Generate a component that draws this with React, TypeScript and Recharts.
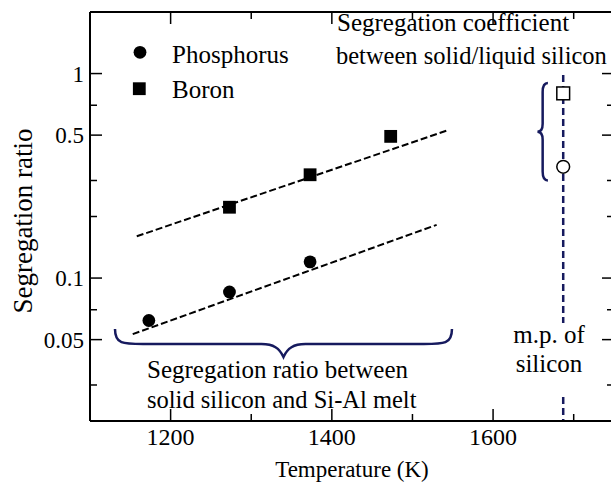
import React from 'react';
import {
  ComposedChart,
  XAxis,
  YAxis,
  Scatter,
  Line,
  ReferenceArea,
  Legend,
  Label,
} from 'recharts';

// ---------- data ----------
const tempTicks = [1200, 1300, 1400, 1500, 1600, 1700];
const tempLabelled = [1200, 1400, 1600];
const ratioTicks = [0.03, 0.04, 0.05, 0.06, 0.07, 0.08, 0.09, 0.1, 0.2, 0.3, 0.4, 0.5, 0.6, 0.7, 0.8, 0.9, 1];
const ratioLabelled = [0.05, 0.1, 0.5, 1];

const phosphorus = [
  { T: 1173, r: 0.062 },
  { T: 1273, r: 0.0855 },
  { T: 1373, r: 0.12 },
];
const boron = [
  { T: 1273, r: 0.222 },
  { T: 1373, r: 0.32 },
  { T: 1473, r: 0.493 },
];
const phosphorusFit = [
  { T: 1153, r: 0.0532 },
  { T: 1530, r: 0.182 },
];
const boronFit = [
  { T: 1158, r: 0.16 },
  { T: 1545, r: 0.53 },
];
const meltingPointUpper = [
  { T: 1687, r: 0.985 },
  { T: 1687, r: 0.0603 },
];
const meltingPointLower = [
  { T: 1687, r: 0.0262 },
  { T: 1687, r: 0.02 },
];
const boronSolidLiquid = [{ T: 1687, r: 0.8 }];
const phosphorusSolidLiquid = [{ T: 1687, r: 0.35 }];

const braceSolidLiquid = { T1: 1655, T2: 1668, r1: 0.3, r2: 0.9 };
const braceSiAl = { T1: 1131, T2: 1549, r1: 0.0411, r2: 0.0564 };

// ---------- styles ----------
const FONT = "'Liberation Serif', 'Times New Roman', serif";
const NAVY = '#161a5e';
const INK = '#000';
const txt = (size: number) => ({ fontFamily: FONT, fontSize: size });

const BottomTick = (props: any) => {
  const { x, y, payload } = props;
  const major = tempLabelled.includes(payload.value);
  return (
    <g>
      <line x1={x} y1={y} x2={x} y2={y - (major ? 12 : 7)} stroke={INK} strokeWidth={1.5} />
      {major && (
        <text x={x} y={y + 24} textAnchor="middle" style={txt(24)} fill={INK}>
          {payload.value}
        </text>
      )}
    </g>
  );
};

const TopTick = (props: any) => {
  const { x, y, payload } = props;
  const major = tempLabelled.includes(payload.value);
  return <line x1={x} y1={y} x2={x} y2={y + (major ? 12 : 7)} stroke={INK} strokeWidth={1.5} />;
};

const LeftTick = (props: any) => {
  const { x, y, payload } = props;
  const major = ratioLabelled.includes(payload.value);
  return (
    <g>
      <line x1={x} y1={y} x2={x + (major ? 12 : 7)} y2={y} stroke={INK} strokeWidth={1.5} />
      {major && (
        <text x={x - 6} y={y + 8} textAnchor="end" style={txt(23)} fill={INK}>
          {payload.value}
        </text>
      )}
    </g>
  );
};

const RightTick = (props: any) => {
  const { x, y, payload } = props;
  const major = ratioLabelled.includes(payload.value);
  return <line x1={x} y1={y} x2={x - (major ? 12 : 7)} y2={y} stroke={INK} strokeWidth={1.5} />;
};

const VerticalBrace = (props: any) => {
  const { x, y, width, height } = props;
  const L = x;
  const R = x + width;
  const T = y;
  const B = y + height;
  const M = T + height / 2;
  const V = L + width * 0.5;
  const d = `M ${R} ${T} Q ${V} ${T} ${V} ${T + 9} L ${V} ${M - 8} Q ${V} ${M} ${L} ${M} Q ${V} ${M} ${V} ${M + 8} L ${V} ${B - 9} Q ${V} ${B} ${R} ${B}`;
  return <path d={d} fill="none" stroke={NAVY} strokeWidth={2.5} />;
};

const HorizontalBrace = (props: any) => {
  const { x, y, width, height } = props;
  const L = x;
  const R = x + width;
  const T = y;
  const B = y + height;
  const H = T + height * 0.54;
  const C = L + width / 2;
  const d = `M ${L} ${T} C ${L} ${H} ${L + 8} ${H} ${L + 28} ${H} L ${C - 22} ${H} C ${C - 10} ${H} ${C - 4} ${H + 4} ${C} ${B} C ${C + 4} ${H + 4} ${C + 10} ${H} ${C + 22} ${H} L ${R - 28} ${H} C ${R - 8} ${H} ${R} ${H} ${R} ${T}`;
  return <path d={d} fill="none" stroke={NAVY} strokeWidth={2.5} />;
};

const FilledCircle = (p: any) => <circle cx={p.cx} cy={p.cy} r={6.4} fill={INK} />;
const FilledSquare = (p: any) => <rect x={p.cx - 6.4} y={p.cy - 6.4} width={12.8} height={12.8} fill={INK} />;
const OpenCircle = (p: any) => <circle cx={p.cx} cy={p.cy} r={6.4} fill="#fff" stroke={INK} strokeWidth={1.5} />;
const OpenSquare = (p: any) => (
  <rect x={p.cx - 6.4} y={p.cy - 6.4} width={12.8} height={12.8} fill="#fff" stroke={INK} strokeWidth={1.5} />
);

const LegendContent = () => (
  <svg width={200} height={80} style={{ display: 'block' }}>
    <circle cx={20} cy={22.3} r={6.4} fill={INK} />
    <text x={52} y={32.5} style={txt(25)} fill={INK}>Phosphorus</text>
    <rect x={12.9} y={52.3} width={12.8} height={12.8} fill={INK} />
    <text x={52} y={68.3} style={txt(25)} fill={INK}>Boron</text>
  </svg>
);

const annotations = [
  { text: 'Segregation coefficient', x: 337, y: 31, anchor: 'start', size: 25 },
  { text: 'between solid/liquid silicon', x: 336, y: 64, anchor: 'start', size: 24.5 },
  { text: 'Segregation ratio between', x: 147, y: 378, anchor: 'start', size: 25 },
  { text: 'solid silicon and Si-Al melt', x: 147, y: 408, anchor: 'start', size: 24.5 },
  { text: 'm.p. of', x: 549, y: 343, anchor: 'middle', size: 25 },
  { text: 'silicon', x: 549, y: 372, anchor: 'middle', size: 25 },
];

export default function App() {
  return (
    <div style={{ position: 'absolute', left: 0, top: 0, width: 611, height: 496, overflow: 'hidden', background: '#fff' }}>
      <ComposedChart width={640} height={496} margin={{ top: 11, left: 89, right: 25, bottom: 74 }}>
        <XAxis
          xAxisId="bottom"
          dataKey="T"
          type="number"
          domain={[1100, 1750]}
          ticks={tempTicks}
          allowDataOverflow
          height={1}
          tickSize={0}
          tickMargin={0}
          tickLine={false}
          tick={<BottomTick />}
          axisLine={{ stroke: INK, strokeWidth: 2 }}
        >
          <Label
            content={(p: any) => {
              const vb = p.viewBox || { x: 90, y: 421, width: 524 };
              return (
                <text x={vb.x + vb.width / 2} y={vb.y + 56} textAnchor="middle" style={txt(23)} fill={INK}>
                  Temperature (K)
                </text>
              );
            }}
          />
        </XAxis>
        <XAxis
          xAxisId="top"
          orientation="top"
          dataKey="T"
          type="number"
          domain={[1100, 1750]}
          ticks={tempTicks}
          allowDataOverflow
          height={1}
          tickSize={0}
          tickMargin={0}
          tickLine={false}
          tick={<TopTick />}
          axisLine={{ stroke: INK, strokeWidth: 2 }}
        />
        <YAxis
          yAxisId="left"
          dataKey="r"
          type="number"
          scale="log"
          domain={[0.02, 2]}
          ticks={ratioTicks}
          allowDataOverflow
          width={1}
          tickSize={0}
          tickMargin={0}
          tickLine={false}
          tick={<LeftTick />}
          axisLine={{ stroke: INK, strokeWidth: 2 }}
        >
          <Label
            content={(p: any) => {
              const vb = p.viewBox || { x: 89, y: 12, width: 1, height: 409 };
              const cx = 32;
              const cy = vb.y + vb.height / 2 + 4.5;
              return (
                <text
                  x={cx}
                  y={cy}
                  transform={`rotate(-90, ${cx}, ${cy})`}
                  textAnchor="middle"
                  style={txt(27)}
                  fill={INK}
                >
                  Segregation ratio
                </text>
              );
            }}
          />
        </YAxis>
        <YAxis
          yAxisId="right"
          orientation="right"
          dataKey="r"
          type="number"
          scale="log"
          domain={[0.02, 2]}
          ticks={ratioTicks}
          allowDataOverflow
          width={1}
          tickSize={0}
          tickMargin={0}
          tickLine={false}
          tick={<RightTick />}
          axisLine={{ stroke: INK, strokeWidth: 2 }}
        />

        <ReferenceArea
          xAxisId="bottom"
          yAxisId="left"
          x1={braceSolidLiquid.T1}
          x2={braceSolidLiquid.T2}
          y1={braceSolidLiquid.r1}
          y2={braceSolidLiquid.r2}
          shape={(p: any) => <VerticalBrace {...p} />}
        />
        <ReferenceArea
          xAxisId="bottom"
          yAxisId="left"
          x1={braceSiAl.T1}
          x2={braceSiAl.T2}
          y1={braceSiAl.r1}
          y2={braceSiAl.r2}
          shape={(p: any) => <HorizontalBrace {...p} />}
        />

        <Line xAxisId="bottom" yAxisId="left" data={boronFit} dataKey="r" type="linear" stroke={INK} strokeWidth={2} strokeDasharray="7 3" dot={false} activeDot={false} isAnimationActive={false} legendType="none" />
        <Line xAxisId="bottom" yAxisId="left" data={phosphorusFit} dataKey="r" type="linear" stroke={INK} strokeWidth={2} strokeDasharray="7 3" dot={false} activeDot={false} isAnimationActive={false} legendType="none" />
        <Line xAxisId="bottom" yAxisId="left" data={meltingPointUpper} dataKey="r" type="linear" stroke={NAVY} strokeWidth={2.5} strokeDasharray="7 4" dot={false} activeDot={false} isAnimationActive={false} legendType="none" />
        <Line xAxisId="bottom" yAxisId="left" data={meltingPointLower} dataKey="r" type="linear" stroke={NAVY} strokeWidth={2.5} strokeDasharray="7 4" dot={false} activeDot={false} isAnimationActive={false} legendType="none" />

        <Scatter xAxisId="bottom" yAxisId="left" name="Phosphorus" data={phosphorus} shape={FilledCircle} isAnimationActive={false} />
        <Scatter xAxisId="bottom" yAxisId="left" name="Boron" data={boron} shape={FilledSquare} isAnimationActive={false} />
        <Scatter xAxisId="bottom" yAxisId="left" data={boronSolidLiquid} shape={OpenSquare} isAnimationActive={false} legendType="none" />
        <Scatter xAxisId="bottom" yAxisId="left" data={phosphorusSolidLiquid} shape={OpenCircle} isAnimationActive={false} legendType="none" />

        <Legend
          layout="vertical"
          align="center"
          verticalAlign="middle"
          content={<LegendContent />}
          wrapperStyle={{ left: 120, top: 30, width: 200, height: 80 }}
        />
      </ComposedChart>
      <svg
        width={611}
        height={496}
        style={{ position: 'absolute', left: 0, top: 0, pointerEvents: 'none' }}
      >
        {annotations.map((a) => (
          <text key={a.text} x={a.x} y={a.y} textAnchor={a.anchor as any} style={txt(a.size)} fill={INK}>
            {a.text}
          </text>
        ))}
      </svg>
    </div>
  );
}
